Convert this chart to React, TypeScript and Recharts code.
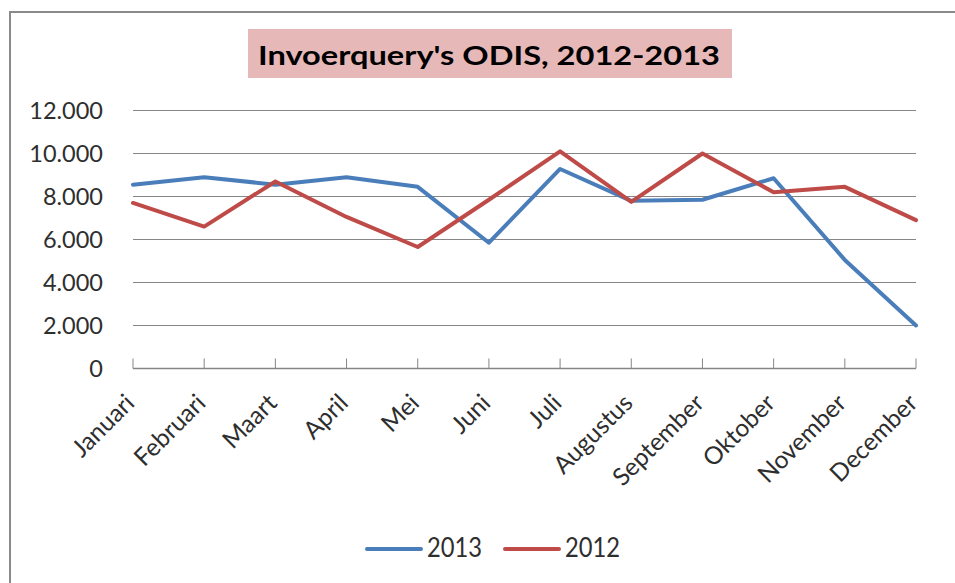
import React from "react";
import { CartesianGrid, Line, LineChart, XAxis, YAxis } from "recharts";

const months = [
  "Januari",
  "Februari",
  "Maart",
  "April",
  "Mei",
  "Juni",
  "Juli",
  "Augustus",
  "September",
  "Oktober",
  "November",
  "December",
];

const values2013 = [8550, 8900, 8550, 8900, 8450, 5850, 9280, 7800, 7850, 8850, 5050, 2000];
const values2012 = [7700, 6600, 8700, 7050, 5650, 7850, 10100, 7750, 10000, 8200, 8450, 6900];

const yTicks = [0, 2000, 4000, 6000, 8000, 10000, 12000];

const series = [
  { key: "y2013", label: "2013", color: "#4A7EBB" },
  { key: "y2012", label: "2012", color: "#BE4B48" },
];

const data = months.map((m, i) => ({
  month: m,
  y2013: values2013[i],
  y2012: values2012[i],
}));

const FONT = "Lato, 'DejaVu Sans', sans-serif";
const GRID = "#868686";
const TEXT = "#2e2e2e";

const fmt = (v: number) => String(v).replace(/\B(?=(\d{3})+(?!\d))/g, ".");

function MonthTick(props: any) {
  const { x, y, payload } = props;
  return (
    <g>
      <line x1={x} x2={x} y1={y - 10} y2={y} stroke={GRID} strokeWidth={1} />
      <text
        transform={`translate(${x + 3},${y + 36}) rotate(-45)`}
        textAnchor="end"
        fontFamily={FONT}
        fontSize={24.5}
        fill={TEXT}
      >
        {payload.value}
      </text>
    </g>
  );
}

export default function App() {
  return (
    <div style={{ position: "absolute", left: 0, top: 0, width: 955, height: 583, background: "#fff", overflow: "hidden" }}>
      <div
        style={{
          position: "absolute",
          left: 9,
          top: 11,
          width: 960,
          height: 600,
          borderLeft: "2px solid #8a8a8a",
          borderTop: "2px solid #8a8a8a",
        }}
      />
      <div style={{ position: "absolute", left: 248, top: 29, width: 484, height: 49, background: "#E6B9B8" }}>
        <svg width={484} height={49}>
          <text
            x={10}
            y={36}
            textLength={462}
            lengthAdjust="spacingAndGlyphs"
            fontFamily={FONT}
            fontWeight="bold"
            fontSize={27}
            fill="#000"
          >
            Invoerquery's ODIS, 2012-2013
          </text>
        </svg>
      </div>
      <div style={{ position: "absolute", left: 0, top: 0 }}>
        <LineChart width={955} height={583} data={data} margin={{ top: 110.5, right: 39, bottom: 0, left: 0 }}>
          <CartesianGrid vertical={false} stroke={GRID} strokeWidth={1} />
          <XAxis
            dataKey="month"
            height={214.5}
            interval={0}
            axisLine={{ stroke: GRID, strokeWidth: 1.5 }}
            tickLine={false}
            tickSize={0}
            tickMargin={0}
            tick={<MonthTick />}
          />
          <YAxis
            width={133}
            domain={[0, 12000]}
            ticks={yTicks}
            interval={0}
            axisLine={false}
            tickLine={false}
            tickSize={0}
            tickMargin={30}
            tickFormatter={fmt}
            tick={{ fontFamily: FONT, fontSize: 23.5, fill: TEXT }}
          />
          {series.map((s) => (
            <Line
              key={s.key}
              type="linear"
              dataKey={s.key}
              name={s.label}
              stroke={s.color}
              strokeWidth={4}
              strokeLinejoin="round"
              strokeLinecap="round"
              dot={false}
              activeDot={false}
              isAnimationActive={false}
            />
          ))}
        </LineChart>
      </div>
      <svg style={{ position: "absolute", left: 0, top: 520 }} width={955} height={60}>
        {series.map((s, i) => {
          const x0 = 367 + i * 138;
          return (
            <g key={s.key}>
              <line x1={x0} x2={x0 + 54} y1={29} y2={29} stroke={s.color} strokeWidth={4} strokeLinecap="round" />
              <text
                x={x0 + 60}
                y={37}
                textLength={55}
                lengthAdjust="spacingAndGlyphs"
                fontFamily={FONT}
                fontSize={26}
                fill={TEXT}
              >
                {s.label}
              </text>
            </g>
          );
        })}
      </svg>
    </div>
  );
}
